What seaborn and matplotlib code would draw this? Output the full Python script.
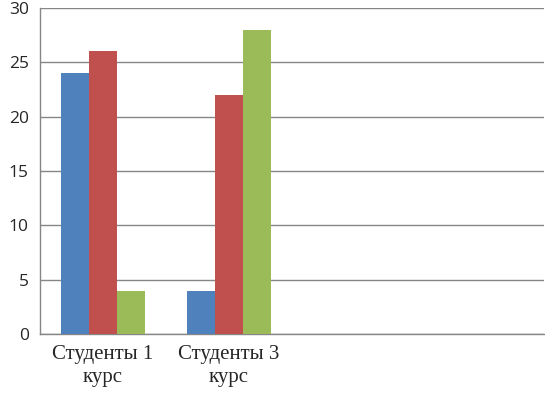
"""
Grouped bar chart: Студенты 1 курс / Студенты 3 курс, three series.
"""

import pandas as pd
import matplotlib
matplotlib.use("Agg")
import matplotlib.pyplot as plt
import seaborn as sns

# Data
categories = ["Студенты 1\nкурс", "Студенты 3\nкурс", " ", "  "]
series_names = ["Ряд 1", "Ряд 2", "Ряд 3"]
series1 = [24, 4]
series2 = [26, 22]
series3 = [4, 28]
y_ticks = [0, 5, 10, 15, 20, 25, 30]

colors = ["#4F81BD", "#C0504D", "#9BBB59"]
grid_color = "#868686"

rows = []
for name, vals in zip(series_names, [series1, series2, series3]):
    for cat, v in zip(categories[:2], vals):
        rows.append({"category": cat, "series": name, "value": v})
df = pd.DataFrame(rows)

sns.set_style("white")

fig = plt.figure(figsize=(5.45, 3.95), dpi=100)
ax = fig.add_axes([40 / 545, 61 / 395, 504 / 545, 326 / 395])

sns.barplot(data=df, x="category", y="value", hue="series", order=categories,
            hue_order=series_names, palette=colors, width=0.66, gap=0,
            saturation=1, legend=False, linewidth=0, ax=ax, zorder=3)

ax.set_ylim(0, 30)
ax.set_xlim(-0.5, len(categories) - 0.5)
ax.set_yticks(y_ticks)
ax.set_yticklabels([str(t) for t in y_ticks], fontfamily="Open Sans", fontsize=12.5)
ax.yaxis.grid(True, color=grid_color, linewidth=1, zorder=0)
ax.set_axisbelow(True)

# Category boundaries get the tick marks, labels sit in the middle
ax.set_xticks([i - 0.5 for i in range(len(categories) + 1)])
ax.set_xticklabels([])
ax.set_xticks(range(len(categories)), minor=True)
ax.set_xticklabels(categories, minor=True, fontfamily="Liberation Serif",
                   fontsize=15, linespacing=1.3)
ax.tick_params(axis="x", which="major", length=5, color=grid_color, width=1)
ax.tick_params(axis="x", which="minor", length=0, pad=8)
ax.tick_params(axis="y", length=5, color=grid_color, width=1, pad=3)

ax.set_xlabel("")
ax.set_ylabel("")
for side in ["top", "right"]:
    ax.spines[side].set_visible(False)
for side in ["left", "bottom"]:
    ax.spines[side].set_color(grid_color)
    ax.spines[side].set_linewidth(1)

plt.savefig("out.png", dpi=100)
plt.close()
